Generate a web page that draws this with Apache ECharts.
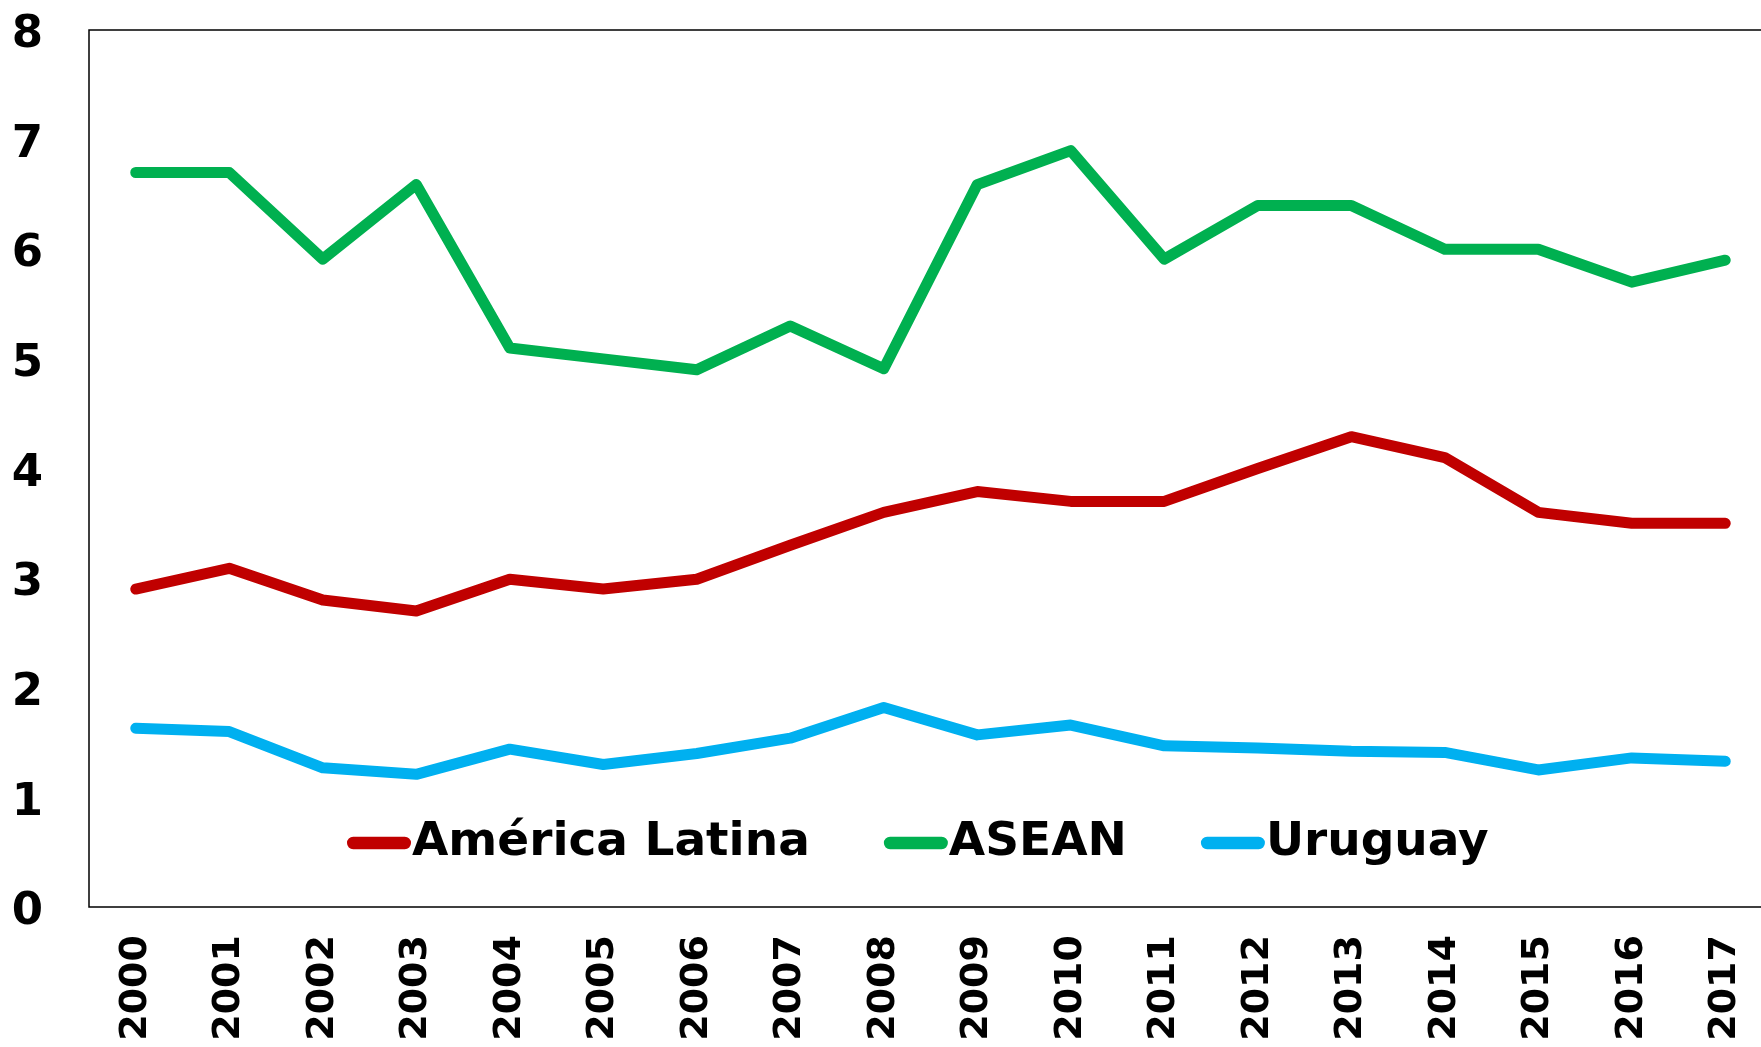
<!DOCTYPE html>
<html>
<head>
<meta charset="utf-8">
<script src="https://cdn.jsdelivr.net/npm/echarts@6/dist/echarts.min.js"></script>
<style>
  html, body { margin: 0; padding: 0; background: #fff; }
  #chart { width: 1761px; height: 1047px; }
</style>
</head>
<body>
<div id="chart"></div>
<script>
var years = ["2000", "2001", "2002", "2003", "2004", "2005", "2006", "2007", "2008",
  "2009", "2010", "2011", "2012", "2013", "2014", "2015", "2016", "2017"];
var americaLatina = [2.9, 3.09, 2.8, 2.7, 2.99, 2.9, 2.99, 3.3, 3.6, 3.79, 3.7, 3.7, 4.0, 4.29, 4.1, 3.6, 3.5, 3.5];
var asean = [6.7, 6.7, 5.91, 6.59, 5.1, 5.0, 4.9, 5.3, 4.91, 6.59, 6.9, 5.91, 6.4, 6.4, 6.0, 6.0, 5.7, 5.9];
var uruguay = [1.63, 1.6, 1.27, 1.21, 1.44, 1.3, 1.4, 1.54, 1.82, 1.57, 1.66, 1.47, 1.45, 1.42, 1.41, 1.25, 1.36, 1.33];

var names = ["América Latina", "ASEAN", "Uruguay"];
var colorList = ["#C00000", "#00B050", "#00B0F0"];

var myChart = echarts.init(document.getElementById("chart"));

var font = "DejaVu Sans";
var capsule = "path://M6,0 L56,0 A6,6 0 0 1 56,12 L6,12 A6,6 0 0 1 6,0 Z";

function line(name, data, color) {
  return {
    name: name,
    type: "line",
    data: data,
    symbol: "none",
    showSymbol: false,
    lineStyle: { color: color, width: 11, cap: "round", join: "round" },
    itemStyle: { color: color },
    z: 3,
  };
}

var option = {
  backgroundColor: "#fff",
  animation: false,
  grid: {
    left: 89,
    top: 30,
    width: 1683,
    height: 877,
    outerBoundsMode: "none",
    containLabel: false,
    show: true,
    borderColor: "#000",
    borderWidth: 1.5,
    backgroundColor: "transparent",
  },
  legend: {
    left: 347,
    top: 817,
    padding: 0,
    itemGap: 74,
    itemWidth: 64,
    itemHeight: 13,
    icon: capsule,
    data: names,
    textStyle: {
      fontFamily: font,
      fontWeight: "bold",
      fontSize: 47,
      lineHeight: 52,
      color: "#000",
      padding: [0, 0, 0, -4],
    },
  },
  xAxis: {
    type: "category",
    data: years,
    boundaryGap: true,
    axisLine: { show: false },
    axisTick: { show: false },
    axisLabel: {
      rotate: 90,
      margin: 28,
      interval: 0,
      fontFamily: font,
      fontWeight: "bold",
      fontSize: 38,
      color: "#000",
    },
  },
  yAxis: {
    type: "value",
    min: 0,
    max: 8,
    interval: 1,
    splitLine: { show: false },
    axisLine: { show: false },
    axisTick: { show: false },
    axisLabel: {
      margin: 46,
      formatter: "{v|{value}}",
      rich: {
        v: {
          padding: [11, 0, 0, 0],
          fontFamily: font,
          fontWeight: "bold",
          fontSize: 45,
          color: "#000",
        },
      },
    },
  },
  series: [
    line(names[0], americaLatina, colorList[0]),
    line(names[1], asean, colorList[1]),
    line(names[2], uruguay, colorList[2]),
  ],
};

option && myChart.setOption(option);
</script>
</body>
</html>
